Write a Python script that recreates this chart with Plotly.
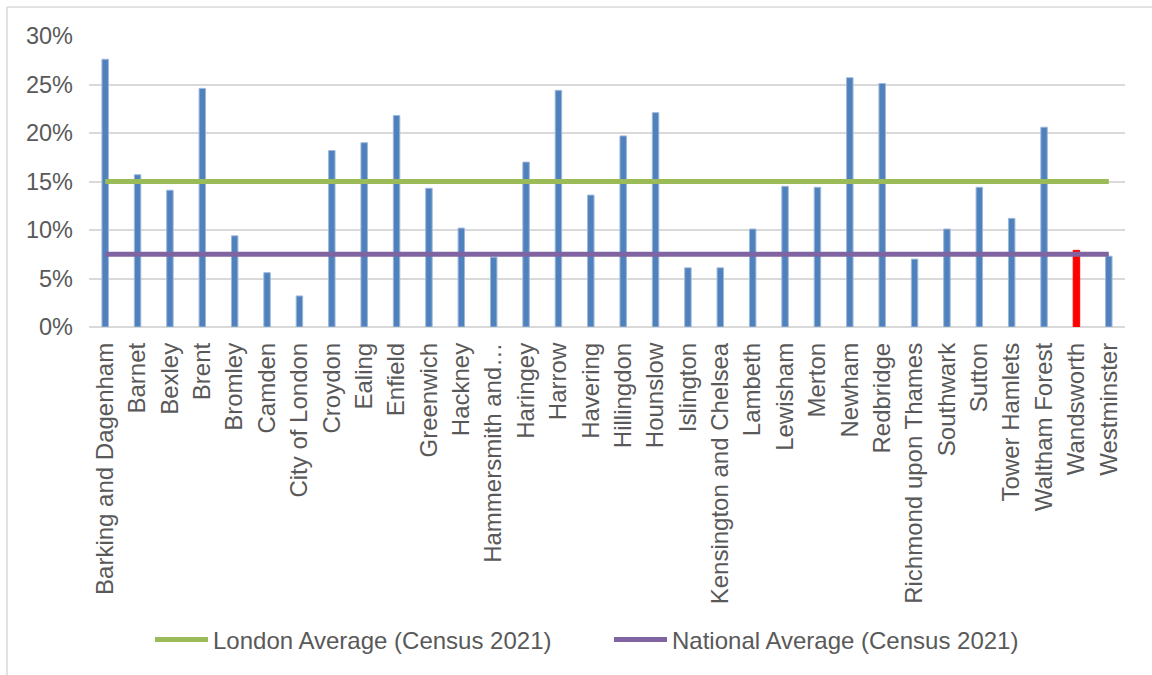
import plotly.graph_objects as go

boroughs = [
    "Barking and Dagenham", "Barnet", "Bexley", "Brent", "Bromley", "Camden",
    "City of London", "Croydon", "Ealing", "Enfield", "Greenwich", "Hackney",
    "Hammersmith and…", "Haringey", "Harrow", "Havering", "Hillingdon",
    "Hounslow", "Islington", "Kensington and Chelsea", "Lambeth", "Lewisham",
    "Merton", "Newham", "Redbridge", "Richmond upon Thames", "Southwark",
    "Sutton", "Tower Hamlets", "Waltham Forest", "Wandsworth", "Westminster",
]
values = [
    27.6, 15.7, 14.1, 24.6, 9.4, 5.6,
    3.2, 18.2, 19.0, 21.8, 14.3, 10.2,
    7.2, 17.0, 24.4, 13.6, 19.7,
    22.1, 6.1, 6.1, 10.1, 14.5,
    14.4, 25.7, 25.1, 7.0, 10.1,
    14.4, 11.2, 20.6, 7.9, 7.3,
]
highlight = "Wandsworth"
london_avg = 15.0
national_avg = 7.5
y_ticks = [0, 5, 10, 15, 20, 25, 30]
y_tick_labels = ["0%", "5%", "10%", "15%", "20%", "25%", "30%"]

BLUE = "#4F81BD"
RED = "#FF0000"
GREEN = "#9BBB59"
PURPLE = "#8064A2"
TEXT = "#595959"
GRID = "#D9D9D9"
FONT = "Liberation Sans, Arial, sans-serif"

bar_colors = [RED if b == highlight else BLUE for b in boroughs]
bar_lines = ["#FF0000" if b == highlight else "#9FB8DA" for b in boroughs]

fig = go.Figure()
fig.add_trace(go.Bar(
    x=boroughs, y=values, marker=dict(color=bar_colors, line=dict(color=bar_lines, width=1)),
    showlegend=False, hoverinfo="x+y",
))
fig.add_trace(go.Scatter(
    x=boroughs, y=[london_avg] * len(boroughs), mode="lines",
    name="London Average (Census 2021)", line=dict(color=GREEN, width=5),
))
fig.add_trace(go.Scatter(
    x=boroughs, y=[national_avg] * len(boroughs), mode="lines",
    name="National Average (Census 2021)", line=dict(color=PURPLE, width=5),
))

L, R, T, B = 89, 27, 36, 348
W, H = 1152, 675
pw = W - L - R
ph = H - T - B

def px_x(px):
    return (px - L) / pw

def px_y(py):
    return (H - B - py) / ph

fig.update_layout(
    width=W, height=H,
    margin=dict(l=L, r=R, t=T, b=B, autoexpand=False),
    paper_bgcolor="white", plot_bgcolor="white",
    font=dict(family=FONT, color=TEXT, size=24),
    bargap=0.8,
    xaxis=dict(
        type="category", tickangle=-90, showgrid=False, showline=False,
        ticks="", tickfont=dict(size=24, color=TEXT, family=FONT),
        automargin=False, ticklabelstandoff=10,
    ),
    yaxis=dict(
        range=[0, 30], tickvals=y_ticks, ticktext=y_tick_labels,
        showgrid=True, gridcolor=GRID, gridwidth=1.5,
        zeroline=True, zerolinecolor=GRID, zerolinewidth=1.5,
        showline=False, ticks="", tickfont=dict(size=23.5, color=TEXT, family=FONT),
        automargin=False, ticklabelstandoff=15,
    ),
    legend=dict(
        orientation="h", x=px_x(150), xanchor="left", y=px_y(640), yanchor="middle",
        font=dict(size=24, color=TEXT, family=FONT), bgcolor="rgba(0,0,0,0)",
        itemwidth=53, tracegroupgap=0, entrywidth=391, entrywidthmode="pixels",
    ),
    shapes=[
        dict(type="line", xref="paper", yref="paper", x0=px_x(7), x1=px_x(1160),
             y0=px_y(7), y1=px_y(7), line=dict(color=GRID, width=1.5)),
        dict(type="line", xref="paper", yref="paper", x0=px_x(7), x1=px_x(7),
             y0=px_y(7), y1=px_y(690), line=dict(color=GRID, width=1.5)),
    ],
)

fig.write_html("out.html")
